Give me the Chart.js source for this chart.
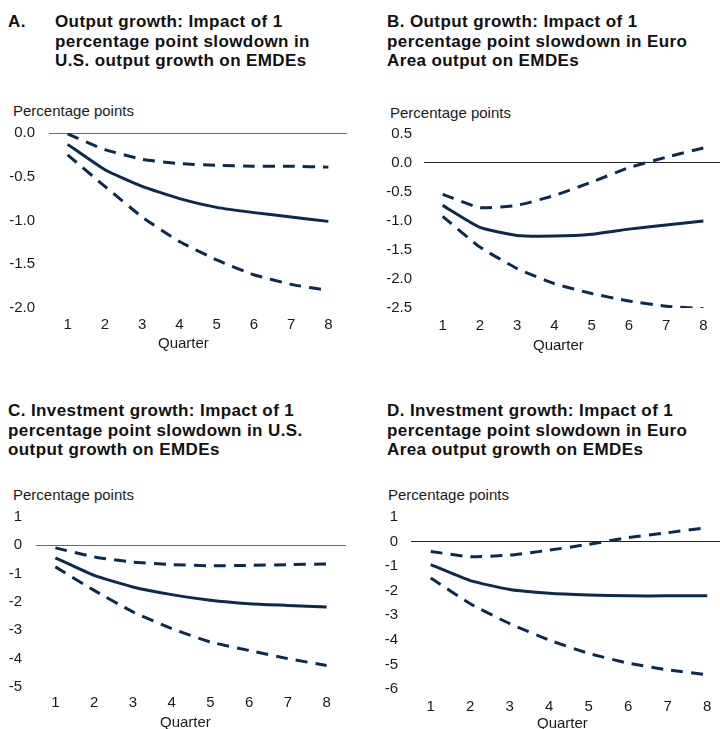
<!DOCTYPE html>
<html>
<head>
<meta charset="utf-8">
<title>Spillovers to EMDEs</title>
<script src="https://cdn.jsdelivr.net/npm/chart.js"></script>
<style>
  html, body { margin: 0; padding: 0; background: #fff; overflow: hidden; }
  #wrap { position: relative; width: 720px; height: 729px; overflow: hidden; font-family: "Liberation Sans", Arial, sans-serif; color: #111; }
  .ttl { position: absolute; font-weight: bold; font-size: 17px; line-height: 19.5px; letter-spacing: 0.4px; white-space: nowrap; }
  .ttl .lt { position: absolute; left: 0; top: 0; }
  .unit { position: absolute; font-size: 15px; line-height: 17px; white-space: nowrap; color: #1a1a1a; }
  canvas { position: absolute; }
</style>
</head>
<body>
<div id="wrap">
  <div class="ttl" style="left:8px; top:12px;">
    <span class="lt">A.</span>
    <div style="margin-left:47px;">Output growth: Impact of 1<br>percentage point slowdown in<br>U.S. output growth on EMDEs</div>
  </div>
  <div class="ttl" style="left:387px; top:12px;">B. Output growth: Impact of 1<br>percentage point slowdown in Euro<br>Area output on EMDEs</div>
  <div class="ttl" style="left:8px; top:401px;">C. Investment growth: Impact of 1<br>percentage point slowdown in U.S.<br>output growth on EMDEs</div>
  <div class="ttl" style="left:387px; top:401px;">D. Investment growth: Impact of 1<br>percentage point slowdown in Euro<br>Area output growth on EMDEs</div>

  <div class="unit" style="left:13px; top:102px;">Percentage points</div>
  <div class="unit" style="left:390px; top:104px;">Percentage points</div>
  <div class="unit" style="left:13px; top:486px;">Percentage points</div>
  <div class="unit" style="left:388px; top:486px;">Percentage points</div>

  <canvas id="cA" width="360" height="260" style="left:0px; top:100px;"></canvas>
  <canvas id="cB" width="362" height="262" style="left:360px; top:100px;"></canvas>
  <canvas id="cC" width="360" height="250" style="left:0px; top:480px;"></canvas>
  <canvas id="cD" width="367" height="252" style="left:360px; top:480px;"></canvas>

  <div class="unit" style="left:158px; top:334px;">Quarter</div>
  <div class="unit" style="left:533px; top:336px;">Quarter</div>
  <div class="unit" style="left:160px; top:713px;">Quarter</div>
  <div class="unit" style="left:537px; top:714px;">Quarter</div>
</div>

<script>
// quarters after the shock
var quarters = ["1", "2", "3", "4", "5", "6", "7", "8"];

// A. output growth, U.S. slowdown
var aMid  = [-0.13, -0.42, -0.61, -0.75, -0.85, -0.91, -0.96, -1.01];
var aHigh = [-0.01, -0.19, -0.30, -0.35, -0.37, -0.38, -0.38, -0.39];
var aLow  = [-0.25, -0.61, -0.96, -1.24, -1.45, -1.62, -1.73, -1.80];

// B. output growth, Euro Area slowdown
var bMid  = [-0.73, -1.11, -1.25, -1.26, -1.23, -1.14, -1.07, -1.00];
var bHigh = [-0.54, -0.77, -0.73, -0.56, -0.33, -0.08, 0.10, 0.26];
var bLow  = [-0.92, -1.45, -1.82, -2.08, -2.25, -2.38, -2.47, -2.51];

// C. investment growth, U.S. slowdown
var cMid  = [-0.44, -1.06, -1.47, -1.74, -1.94, -2.06, -2.12, -2.18];
var cHigh = [-0.09, -0.41, -0.59, -0.68, -0.72, -0.71, -0.68, -0.66];
var cLow  = [-0.76, -1.59, -2.35, -2.94, -3.41, -3.71, -4.00, -4.24];

// D. investment growth, Euro Area slowdown
var dMid  = [-0.94, -1.59, -1.95, -2.10, -2.17, -2.21, -2.21, -2.21];
var dHigh = [-0.40, -0.62, -0.55, -0.35, -0.11, 0.16, 0.36, 0.57];
var dLow  = [-1.48, -2.53, -3.34, -4.01, -4.55, -4.95, -5.22, -5.42];

// y tick values
var yTicksA = [0.0, -0.5, -1.0, -1.5, -2.0];
var yTicksB = [0.5, 0.0, -0.5, -1.0, -1.5, -2.0, -2.5];
var yTicksC = [1, 0, -1, -2, -3, -4, -5];
var yTicksD = [1, 0, -1, -2, -3, -4, -5, -6];

var navy = "#0c2a4d";
Chart.defaults.font.family = "'Liberation Sans', Arial, sans-serif";
Chart.defaults.font.size = 15;
Chart.defaults.color = "#1a1a1a";

function makeChart(id, mid, low, high, yTicks, decimals, zeroColor, box) {
  var ctx = document.getElementById(id).getContext("2d");
  var line = function (data, dashed) {
    return {
      data: data,
      borderColor: navy,
      borderWidth: 3,
      borderDash: dashed ? [12, 8] : [],
      pointRadius: 0,
      tension: 0.15,
      fill: false
    };
  };
  return new Chart(ctx, {
    type: "line",
    data: {
      labels: quarters,
      datasets: [line(mid, false), line(high, true), line(low, true)]
    },
    options: {
      responsive: false,
      animation: false,
      layout: { padding: { top: box.top, right: box.right, left: 0, bottom: 0 } },
      plugins: { legend: { display: false }, tooltip: { enabled: false } },
      scales: {
        x: {
          type: "category",
          offset: true,
          grid: { display: false, drawTicks: false },
          border: { display: false },
          ticks: { padding: box.xPad, maxRotation: 0 },
          afterFit: function (s) { s.height = box.xh; }
        },
        y: {
          min: yTicks[yTicks.length - 1],
          max: yTicks[0],
          grid: {
            drawTicks: false,
            lineWidth: 1,
            color: function (c) { return c.tick && c.tick.value === 0 ? zeroColor : "rgba(0,0,0,0)"; }
          },
          border: { display: false },
          afterBuildTicks: function (s) { s.ticks = yTicks.map(function (v) { return { value: v }; }); },
          ticks: {
            padding: box.yPad,
            callback: function (v) { return Number(v).toFixed(decimals); }
          },
          afterFit: function (s) { s.width = box.yw; }
        }
      }
    }
  });
}

makeChart("cA", aMid, aLow, aHigh, yTicksA, 1, "#6b6b6b",
  { top: 33, right: 13, yw: 49, xh: 52, xPad: 8, yPad: 14 });
makeChart("cB", bMid, bLow, bHigh, yTicksB, 1, "#222222",
  { top: 34, right: 0, yw: 64, xh: 54, xPad: 9, yPad: 12 });
makeChart("cC", cMid, cLow, cHigh, yTicksC, 0, "#6b6b6b",
  { top: 37, right: 14, yw: 36, xh: 43, xPad: 7, yPad: 14 });
makeChart("cD", dMid, dLow, dHigh, yTicksD, 0, "#222222",
  { top: 37, right: 0, yw: 51, xh: 43, xPad: 9, yPad: 13 });
</script>
</body>
</html>
